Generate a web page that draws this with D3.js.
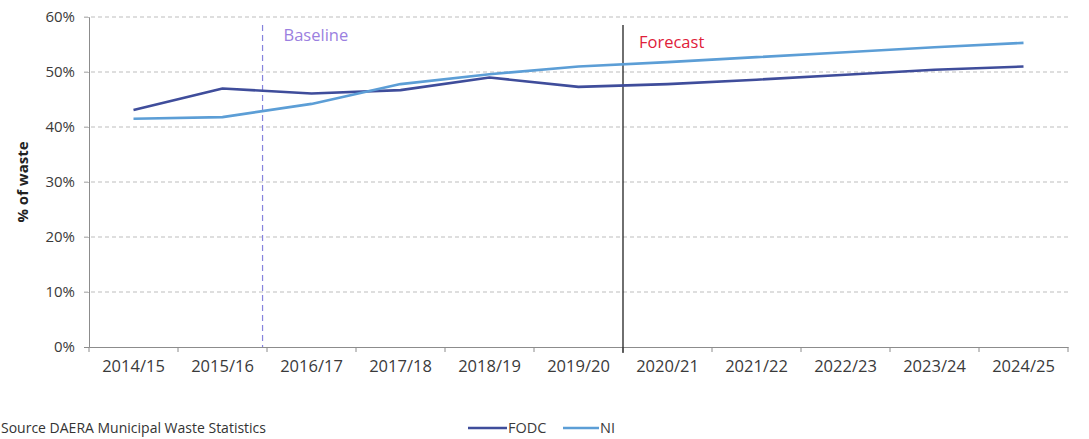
<!DOCTYPE html>
<html>
<head>
<meta charset="utf-8">
<script src="https://cdn.jsdelivr.net/npm/d3@7"></script>
<style>
  html, body { margin: 0; padding: 0; background: #fff; }
  svg { display: block; font-family: "Open Sans", "Liberation Sans", sans-serif; }
</style>
</head>
<body>
<svg id="chart" width="1089" height="439"></svg>
<script>
const categories = ["2014/15","2015/16","2016/17","2017/18","2018/19","2019/20","2020/21","2021/22","2022/23","2023/24","2024/25"];
const fodc = [43.1, 47.0, 46.1, 46.7, 49.0, 47.3, 47.8, 48.6, 49.5, 50.4, 51.0];
const ni   = [41.5, 41.8, 44.2, 47.8, 49.6, 51.0, 51.8, 52.7, 53.6, 54.5, 55.3];
const yTicks = [0, 10, 20, 30, 40, 50, 60];
const seriesNames = ["FODC", "NI"];
const baselineIndex = 1.45;
const forecastIndex = 5.5;
const sourceText = "Source DAERA Municipal Waste Statistics";
const yLabel = "% of waste";

const colors = { FODC: "#3f4d9b", NI: "#5c9ed6" };

const svg = d3.select("#chart");
const mLeft = 89, mRight = 1068, mTop = 17, mBottom = 347;

const x = d3.scaleBand().domain(categories).range([mLeft, mRight]).paddingInner(0).paddingOuter(0);
const bw = x.bandwidth();
const xc = c => x(c) + bw / 2;
const xi = d3.scaleLinear().domain([0, categories.length - 1]).range([xc(categories[0]), xc(categories[categories.length - 1])]);
const y = d3.scaleLinear().domain([0, 60]).range([mBottom, mTop]);

// gridlines
svg.append("g").selectAll("line").data(yTicks.filter(t => t > 0)).join("line")
  .attr("x1", mLeft - 5).attr("x2", mRight + 2)
  .attr("y1", d => y(d)).attr("y2", d => y(d))
  .attr("stroke", "#bdbdbd").attr("stroke-width", 1).attr("stroke-dasharray", "4,3");

// y axis
const yAxis = d3.axisLeft(y).tickValues(yTicks).tickFormat(d => d + "%").tickSize(5).tickPadding(9);
const gy = svg.append("g").attr("transform", `translate(${mLeft},0)`).call(yAxis);
gy.select(".domain").attr("stroke", "#8c8c8c");
gy.selectAll(".tick line").attr("stroke", "#8c8c8c");
gy.selectAll(".tick text").attr("font-size", 15).attr("fill", "#3a3a3a").attr("font-family", "Open Sans, sans-serif");
gy.selectAll(".tick").filter(d => d > 0).select("line").attr("stroke", "#bdbdbd");

// x axis
const xAxis = d3.axisBottom(x).tickSize(0).tickPadding(13);
const gx = svg.append("g").attr("transform", `translate(0,${mBottom})`).call(xAxis);
gx.select(".domain").attr("stroke", "#8c8c8c");
gx.selectAll(".tick text").attr("font-size", 16.5).attr("fill", "#3a3a3a").attr("font-family", "Open Sans, sans-serif");
const boundaries = categories.map(c => x(c)).concat([x.range()[1]]);
svg.append("g").selectAll("line").data(boundaries).join("line")
  .attr("x1", d => d).attr("x2", d => d)
  .attr("y1", mBottom).attr("y2", mBottom + 5)
  .attr("stroke", "#8c8c8c");

// y label
svg.append("text")
  .attr("transform", `translate(28,${(mTop + mBottom) / 2}) rotate(-90)`)
  .attr("text-anchor", "middle")
  .attr("font-size", 15).attr("font-weight", "bold").attr("fill", "#222")
  .text(yLabel);

// baseline marker
svg.append("line")
  .attr("x1", xi(baselineIndex)).attr("x2", xi(baselineIndex))
  .attr("y1", 25).attr("y2", mBottom)
  .attr("stroke", "#8583dc").attr("stroke-width", 1.2).attr("stroke-dasharray", "6,4");
svg.append("text").attr("x", xi(baselineIndex) + 21).attr("y", 41)
  .attr("font-size", 16.5).attr("fill", "#9b7fe0").text("Baseline");

// forecast marker
svg.append("line")
  .attr("x1", xi(forecastIndex)).attr("x2", xi(forecastIndex))
  .attr("y1", 25).attr("y2", mBottom + 6)
  .attr("stroke", "#222").attr("stroke-width", 1.3);
svg.append("text").attr("x", xi(forecastIndex) + 16).attr("y", 48)
  .attr("font-size", 16.5).attr("fill", "#e0203a").text("Forecast");

// lines
const line = d3.line().x((d, i) => xc(categories[i])).y(d => y(d));
const data = { FODC: fodc, NI: ni };
seriesNames.forEach(name => {
  svg.append("path").datum(data[name])
    .attr("fill", "none").attr("stroke", colors[name]).attr("stroke-width", 2.6)
    .attr("stroke-linejoin", "round")
    .attr("d", line);
});

// legend
const legend = svg.append("g");
const legendItems = [{ name: "FODC", x: 468, w: 39 }, { name: "NI", x: 563, w: 36 }];
legendItems.forEach(it => {
  legend.append("line").attr("x1", it.x).attr("x2", it.x + it.w)
    .attr("y1", 428).attr("y2", 428)
    .attr("stroke", colors[it.name]).attr("stroke-width", 2.6);
  legend.append("text").attr("x", it.x + it.w + 1).attr("y", 433)
    .attr("font-size", 14.5).attr("fill", "#3a3a3a")
    .text(it.name);
});

// source
svg.append("text").attr("x", 1).attr("y", 433)
  .attr("font-size", 14).attr("fill", "#333").text(sourceText);
</script>
</body>
</html>
